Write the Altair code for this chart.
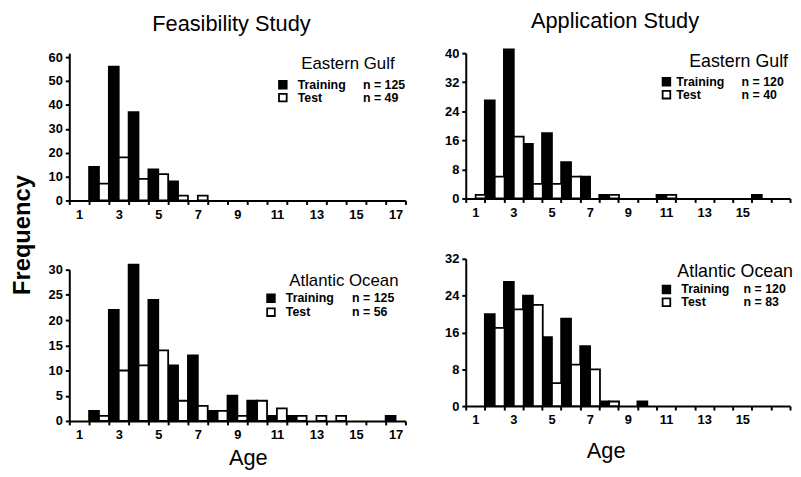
import altair as alt
import pandas as pd

FONT = "Liberation Sans"

ages = list(range(1, 18))
sets = ["Training", "Test"]

# Feasibility Study - Eastern Gulf
fe_train = [0, 14, 56, 37, 13, 8, 0, 0, 0, 0, 0, 0, 0, 0, 0, 0, 0]
fe_test = [0, 7, 18, 9, 11, 2, 2, 0, 0, 0, 0, 0, 0, 0, 0, 0, 0]
# Feasibility Study - Atlantic Ocean
fa_train = [0, 2, 22, 31, 24, 11, 13, 2, 5, 4, 1, 1, 0, 0, 0, 0, 1]
fa_test = [0, 1, 10, 11, 14, 4, 3, 2, 1, 4, 2.5, 1, 1, 1, 0, 0, 0]
# Application Study - Eastern Gulf
ae_train = [0, 27, 41, 15, 18, 10, 6, 1, 0, 0, 1, 0, 0, 0, 0, 1, 0]
ae_test = [1, 6, 17, 4, 4, 6, 0, 1, 0, 0, 1, 0, 0, 0, 0, 0, 0]
# Application Study - Atlantic Ocean
aa_train = [0, 20, 27, 24, 15, 19, 13, 1, 0, 1, 0, 0, 0, 0, 0, 0, 0]
aa_test = [0, 17, 21, 22, 5, 9, 8, 1, 0, 0, 0, 0, 0, 0, 0, 0, 0]

fe_yticks = [0, 10, 20, 30, 40, 50, 60]
fa_yticks = [0, 5, 10, 15, 20, 25, 30]
ae_yticks = [0, 8, 16, 24, 32, 40]
aa_yticks = [0, 8, 16, 24, 32]

regions = ["Eastern Gulf", "Atlantic Ocean"]
studies = ["Feasibility Study", "Application Study"]
n_fe = ["n = 125", "n =  49"]
n_fa = ["n = 125", "n =  56"]
n_ae = ["n = 120", "n =  40"]
n_aa = ["n = 120", "n =  83"]


def text(t, x, y, size, weight="normal", align="left", angle=0):
    kw = dict(text=t, align=align, baseline="middle", fontSize=size,
              fontWeight=weight, font=FONT, color="black")
    if angle:
        kw["angle"] = angle
    return alt.Chart(alt.Data(values=[{}])).mark_text(**kw).encode(
        x=alt.value(x), y=alt.value(y))


def square(x, y, filled):
    return alt.Chart(alt.Data(values=[{}])).mark_square(
        size=60, fill="black" if filled else "white", stroke="black",
        strokeWidth=1.8, opacity=1, fillOpacity=1).encode(
        x=alt.value(x), y=alt.value(y))


def panel(train, test, yticks, ymax, width, height, label_max,
          region, ns, leg, extra):
    df = pd.DataFrame({
        "age": ages * 2,
        "set": ["Training"] * len(ages) + ["Test"] * len(ages),
        "freq": train + test,
    })
    bars = alt.Chart(df).transform_filter("datum.freq > 0").mark_bar(
        stroke="black", strokeWidth=1.8
    ).encode(
        x=alt.X("age:O", scale=alt.Scale(domain=ages, paddingInner=0, paddingOuter=0),
                axis=alt.Axis(title=None, tickBand="extent", labelAngle=0,
                              labelExpr=f"(datum.value % 2 == 1 && datum.value <= {label_max}) ? datum.label : ''",
                              labelOverlap=False, grid=False,
                              domainColor="black", domainWidth=2,
                              tickColor="black", tickWidth=2, tickSize=4,
                              labelFont=FONT, labelFontWeight="bold",
                              labelFontSize=13, labelColor="black", labelPadding=4)),
        xOffset=alt.XOffset("set:N", sort=sets,
                            scale=alt.Scale(domain=sets, paddingInner=0, paddingOuter=0)),
        y=alt.Y("freq:Q", scale=alt.Scale(domain=[0, ymax], nice=False, zero=True),
                axis=alt.Axis(title=None, values=yticks, grid=False,
                              domainColor="black", domainWidth=2,
                              tickColor="black", tickWidth=2, tickSize=4,
                              labelFont=FONT, labelFontWeight="bold",
                              labelFontSize=13, labelColor="black", labelPadding=3)),
        fill=alt.Fill("set:N", scale=alt.Scale(domain=sets, range=["#000000", "#ffffff"]),
                      legend=None),
    )
    rx, ry, sqx, row1, row2, tx, nx, rsize = leg
    layers = [bars,
              text(region, rx, ry, rsize, align="right"),
              square(sqx, row1, True), square(sqx, row2, False),
              text(sets[0], tx, row1, 12.5, "bold"), text(sets[1], tx, row2, 12.5, "bold"),
              text(ns[0], nx, row1, 12.5, "bold"), text(ns[1], nx, row2, 12.5, "bold")]
    layers += extra
    return alt.layer(*layers).properties(width=width, height=height)


tl = panel(fe_train, fe_test, fe_yticks, 60 * 149 / 145, 340, 149, 17,
           regions[0], n_fe, (329, 11, 216, 32, 45, 231, 297, 17),
           [text(studies[0], 164, -29, 22, align="center"),
            text("Frequency", -47, 184, 24, "bold", align="center", angle=270)])
bl = panel(fa_train, fa_test, fa_yticks, 30, 340, 153, 17,
           regions[1], n_fa, (333, 12, 204, 29, 43, 219, 286, 17),
           [text("Age", 181, 191, 22, align="center")])
tr = panel(ae_train, ae_test, ae_yticks, 40, 328, 147, 15,
           regions[0], n_ae, (326, 9, 203, 29, 42, 213, 279, 18),
           [text(studies[1], 151, -32, 22, align="center")])
br = panel(aa_train, aa_test, aa_yticks, 32, 328, 149, 15,
           regions[1], n_aa, (331, 13, 203, 31, 44, 218, 281, 18),
           [text("Age", 142, 195, 22, align="center")])

left = alt.vconcat(tl, bl, spacing=70, bounds="flush")
right = alt.vconcat(tr, br, spacing=61, bounds="flush")
chart = alt.hconcat(left, right, spacing=38).properties(
    padding={"left": 3, "top": 0, "right": 0, "bottom": 0}
).configure_view(stroke=None).resolve_scale(fill="shared")

chart.save("out.html", embed_options={"renderer": "svg", "actions": False})
